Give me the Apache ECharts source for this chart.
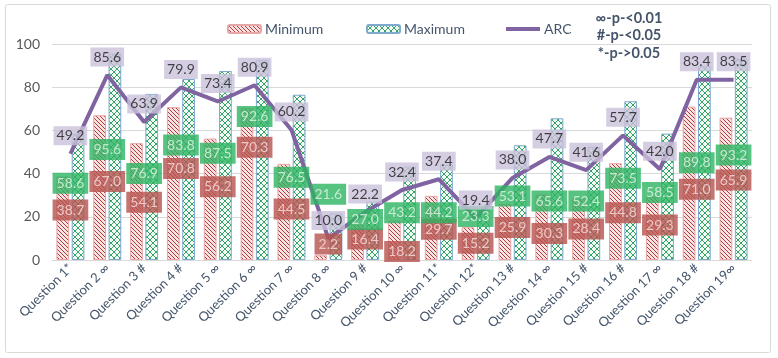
<!DOCTYPE html>
<html>
<head>
<meta charset="utf-8">
<script src="https://cdn.jsdelivr.net/npm/echarts@6/dist/echarts.min.js"></script>
<style>
html,body{margin:0;padding:0;background:#fff;}
#chart{width:778px;height:358px;}
</style>
</head>
<body>
<div id="chart"></div>
<script>
var categories = ['Question 1*','Question 2 ∞','Question 3 #','Question 4 #','Question 5 ∞','Question 6 ∞','Question 7 ∞','Question 8 ∞','Question 9 #','Question 10 ∞','Question 11*','Question 12*','Question 13 #','Question 14 ∞','Question 15 #','Question 16 #','Question 17 ∞','Question 18 #','Question 19∞'];
var minValues = [38.7,67.0,54.1,70.8,56.2,70.3,44.5,2.2,16.4,18.2,29.7,15.2,25.9,30.3,28.4,44.8,29.3,71.0,65.9];
var maxValues = [58.6,95.6,76.9,83.8,87.5,92.6,76.5,21.6,27.0,43.2,44.2,23.3,53.1,65.6,52.4,73.5,58.5,89.8,93.2];
var arcValues = [49.2,85.6,63.9,79.9,73.4,80.9,60.2,10.0,22.2,32.4,37.4,19.4,38.0,47.7,41.6,57.7,42.0,83.4,83.5];
// where the value labels sit (in axis units)
var minLabelAt = [23.1,36.3,26.7,42.4,33.9,52.2,23.6,7.4,9.7,3.9,14.2,7.7,15.1,12.3,14.4,21.9,16.2,32.7,37.0];
var maxLabelAt = [35.5,51.2,40.1,53.2,49.4,66.4,38.3,30.4,18.8,21.9,21.9,20.1,29.6,27.3,27.3,37.8,31.2,45.0,48.6];
var yTicks = {min:0, max:100, interval:20};
var noteLines = ['∞-p-<0.01','#-p-<0.05','*-p->0.05'];

function hatch(bg, fg, size, down, up) {
  var c = document.createElement('canvas');
  c.width = size; c.height = size;
  var ctx = c.getContext('2d');
  ctx.fillStyle = bg; ctx.fillRect(0,0,size,size);
  ctx.fillStyle = fg;
  for (var i=0;i<size;i++){
    if (down) ctx.fillRect(i,i,1,1);
    if (up) ctx.fillRect(i,size-1-i,1,1);
  }
  return c;
}
var minPattern = {image: hatch('#fbe3e3','#b23b3b',4,true,false), repeat:'repeat'};
var maxPattern = {image: hatch('#f4fbf7','#35a565',6,true,true), repeat:'repeat'};

var FONT = 'Lato';
var chart = echarts.init(document.getElementById('chart'), null, {renderer:'canvas'});

function labelSeries(name, at, texts, bg, color) {
  return {
    name: name, type:'scatter', data: at, symbol:'circle', symbolSize:1,
    itemStyle:{color:'rgba(0,0,0,0)'}, silent:true, z:5, legendHoverLink:false,
    label:{show:true, position:'inside', fontFamily:FONT, fontSize:14, lineHeight:15,
      color:color, backgroundColor:bg, padding:[3,4],
      formatter:function(p){return texts[p.dataIndex].toFixed(1);}}
  };
}

var legendText = {fontSize:14,color:'#44546a',fontFamily:FONT,padding:[0,0,0,-1]};
var option = {
  animation:false,
  textStyle:{fontFamily:FONT},
  grid:{left:52, right:26, top:44, bottom:98, containLabel:false},
  legend:[
    {data:['Minimum'], left:222, top:17, itemWidth:33, itemHeight:8, itemGap:0, textStyle:legendText},
    {data:['Maximum'], left:361, top:17, itemWidth:33, itemHeight:8, itemGap:0, textStyle:legendText},
    {data:[{name:'ARC', icon:'rect'}], left:501, top:17, itemWidth:34, itemHeight:4, itemGap:0, textStyle:legendText}
  ],
  xAxis:{type:'category', data:categories,
    axisTick:{show:false},
    axisLine:{lineStyle:{color:'#d9d9d9'}},
    axisLabel:{rotate:45, interval:0, fontSize:13, color:'#44546a', margin:6, fontFamily:FONT}},
  yAxis:{type:'value', min:yTicks.min, max:yTicks.max, interval:yTicks.interval,
    axisLine:{show:false}, axisTick:{show:false},
    splitLine:{lineStyle:{color:'#d9d9d9'}},
    axisLabel:{fontSize:14, color:'#595959', margin:12, fontFamily:FONT}},
  graphic:[
    {type:'rect', shape:{x:5.5,y:4.5,width:765,height:348,r:2}, style:{fill:'none',stroke:'#d9d9d9',lineWidth:1}, silent:true},
    {type:'text', x:629, y:9, style:{text:noteLines.join('\n'), fontFamily:FONT, fontWeight:'bold', fontSize:14.5, lineHeight:17.8, fill:'#44546a', align:'center', verticalAlign:'top'}, silent:true}
  ],
  series:[
    {name:'Minimum', type:'bar', data:minValues, barCategoryGap:'24%', barGap:'20%',
     itemStyle:{color:minPattern, borderColor:'#e7a5a5', borderWidth:1}, z:2},
    {name:'Maximum', type:'bar', data:maxValues,
     itemStyle:{color:maxPattern, borderColor:'#7fa9cf', borderWidth:1}, z:2},
    {name:'ARC', type:'line', data:arcValues, symbol:'none', z:3,
     lineStyle:{color:'#8064a2', width:4}, itemStyle:{color:'#8064a2'}},
    labelSeries('minLabels', minLabelAt, minValues, '#b6524e', '#f6dedd'),
    labelSeries('maxLabels', maxLabelAt, maxValues, '#2db462', '#e4f4e6'),
    {name:'arcLabels', type:'scatter', data:arcValues, symbol:'circle', symbolSize:1,
     itemStyle:{color:'rgba(0,0,0,0)'}, silent:true, z:5,
     label:{show:true, position:'top', distance:8, fontFamily:FONT, fontSize:14, lineHeight:15,
      color:'#1a1a1a', backgroundColor:'#cbc1db', padding:[2,3],
      formatter:function(p){return arcValues[p.dataIndex].toFixed(1);}}}
  ]
};
chart.setOption(option);
</script>
</body>
</html>
